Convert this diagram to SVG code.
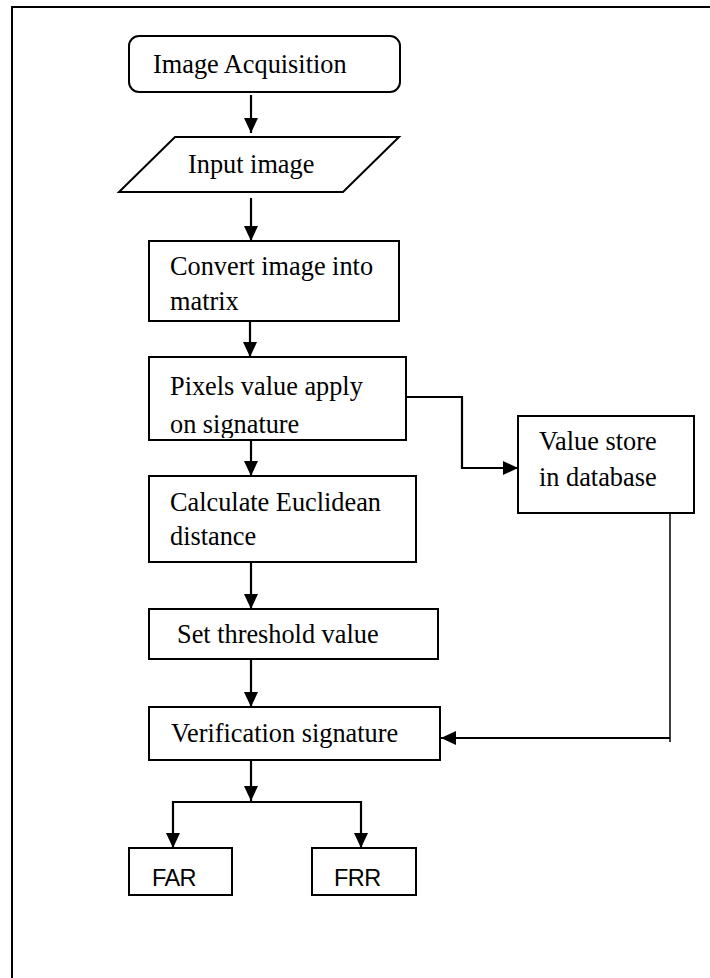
<svg xmlns="http://www.w3.org/2000/svg" width="710" height="978" viewBox="0 0 710 978">
<style>
.box{fill:#fff;stroke:#000;stroke-width:2}
.t{font-family:"Liberation Serif","Times New Roman",serif;font-size:26.3px;fill:#000}
.s{font-family:"Liberation Sans",Arial,sans-serif;font-size:23.5px;letter-spacing:-0.6px;fill:#000}
.c{fill:none;stroke:#000;stroke-width:2.2}
.thin{fill:none;stroke:#000;stroke-width:1.5}
</style>
<defs>
<marker id="ah" viewBox="0 0 15 14" refX="15" refY="7" markerWidth="15" markerHeight="14" markerUnits="userSpaceOnUse" orient="auto">
<path d="M0,0 L15,7 L0,14 z" fill="#000"/>
</marker>
<clipPath id="clipPix"><rect x="149" y="357" width="257" height="81"/></clipPath>
</defs>
<rect width="710" height="978" fill="#fff"/>
<path d="M12,978 V7 H710" fill="none" stroke="#000" stroke-width="2"/>
<g id="connectors">
<path class="c" d="M251,95 V133" marker-end="url(#ah)"/>
<path class="c" d="M251,198 V241" marker-end="url(#ah)"/>
<path class="c" d="M250,313 V357" marker-end="url(#ah)"/>
<path class="c" d="M251,440 V476" marker-end="url(#ah)"/>
<path class="c" d="M406,397 H462 V468 H518" marker-end="url(#ah)"/>
<path class="c" d="M251,557 V609" marker-end="url(#ah)"/>
<path class="c" d="M251,655 V707" marker-end="url(#ah)"/>
<path class="thin" d="M670,513 V742"/>
<path class="c" d="M670,738 H441" marker-end="url(#ah)"/>
<path class="c" d="M251,760 V801" marker-end="url(#ah)"/>
<path class="c" d="M251,802 H173 V848" marker-end="url(#ah)"/>
<path class="c" d="M251,802 H361 V848" marker-end="url(#ah)"/>
</g>
<g id="acquisition">
<rect class="box" x="129" y="36" width="271" height="56" rx="10"/>
<text class="t" x="153" y="73">Image Acquisition</text>
</g>
<g id="input">
<polygon class="box" points="175,137 399,137 343,192 119,192"/>
<text class="t" x="188" y="173">Input image</text>
</g>
<g id="convert">
<rect class="box" x="149" y="241" width="250" height="80"/>
<text class="t" x="170" y="275">Convert image into</text>
<text class="t" x="170" y="310">matrix</text>
</g>
<g id="pixels">
<rect class="box" x="149" y="357" width="257" height="83"/>
<text class="t" x="170" y="395">Pixels value apply</text>
<text class="t" x="170" y="433" clip-path="url(#clipPix)">on signature</text>
</g>
<g id="database">
<rect class="box" x="518" y="416" width="176" height="97"/>
<text class="t" x="539" y="450">Value store</text>
<text class="t" x="539" y="486">in database</text>
</g>
<g id="euclidean">
<rect class="box" x="149" y="476" width="267" height="86"/>
<text class="t" x="170" y="511">Calculate Euclidean</text>
<text class="t" x="170" y="545">distance</text>
</g>
<g id="threshold">
<rect class="box" x="149" y="609" width="289" height="50"/>
<text class="t" x="177" y="643">Set threshold value</text>
</g>
<g id="verification">
<rect class="box" x="149" y="707" width="291" height="53"/>
<text class="t" x="171" y="742">Verification signature</text>
</g>
<g id="far">
<rect class="box" x="129" y="848" width="103" height="47"/>
<text class="s" x="152" y="886">FAR</text>
</g>
<g id="frr">
<rect class="box" x="312" y="848" width="104" height="47"/>
<text class="s" x="334" y="886">FRR</text>
</g>
</svg>
